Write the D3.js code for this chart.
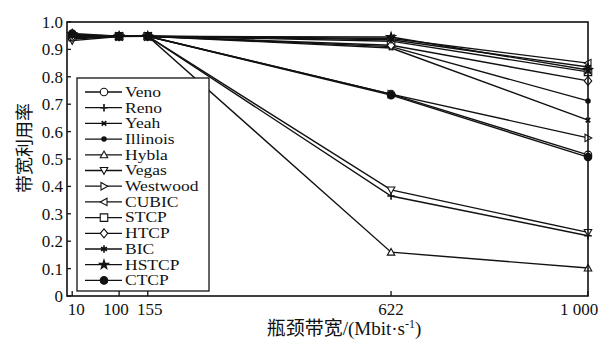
<!DOCTYPE html>
<html>
<head>
<meta charset="utf-8">
<script src="https://cdn.jsdelivr.net/npm/d3@7"></script>
<style>
  html, body { margin: 0; padding: 0; background: #fff; }
  svg { display: block; }
  text { font-family: "Liberation Serif", "Times New Roman", serif; fill: #111; }
  .cjk { font-family: "Noto Sans CJK SC", sans-serif; fill: #111; }
</style>
</head>
<body>
<div id="chart"></div>
<script>
/* Bandwidth utilisation vs bottleneck bandwidth for 13 TCP variants */
var bandwidth = [10, 100, 155, 622, 1000];
var bandwidthLabels = ['10', '100', '155', '622', '1 000'];
var yTicks = [0, 0.1, 0.2, 0.3, 0.4, 0.5, 0.6, 0.7, 0.8, 0.9, 1.0];
var yTickLabels = ['0', '0.1', '0.2', '0.3', '0.4', '0.5', '0.6', '0.7', '0.8', '0.9', '1.0'];

var names = ['Veno', 'Reno', 'Yeah', 'Illinois', 'Hybla', 'Vegas', 'Westwood',
             'CUBIC', 'STCP', 'HTCP', 'BIC', 'HSTCP', 'CTCP'];

var veno     = [0.945, 0.948, 0.948, 0.737, 0.515];
var reno     = [0.938, 0.948, 0.948, 0.365, 0.220];
var yeah     = [0.945, 0.948, 0.948, 0.905, 0.642];
var illinois = [0.943, 0.948, 0.948, 0.910, 0.712];
var hybla    = [0.952, 0.948, 0.948, 0.160, 0.102];
var vegas    = [0.932, 0.947, 0.948, 0.387, 0.232];
var westwood = [0.944, 0.948, 0.948, 0.737, 0.577];
var cubic    = [0.950, 0.948, 0.948, 0.940, 0.850];
var stcp     = [0.948, 0.948, 0.948, 0.930, 0.818];
var htcp     = [0.946, 0.948, 0.948, 0.915, 0.785];
var bic      = [0.950, 0.948, 0.948, 0.935, 0.836];
var hstcp    = [0.955, 0.948, 0.948, 0.945, 0.825];
var ctcp     = [0.958, 0.948, 0.948, 0.733, 0.507];

var markers = ['circle', 'plus', 'x', 'dot', 'triUp', 'triDown', 'triRight',
               'triLeft', 'square', 'diamond', 'asterisk', 'star', 'bigdot'];

(function () {
  'use strict';
  var W = 608, H = 342;
  var left = 67, right = 588, top = 22, bottom = 296;

  var allValues = [veno, reno, yeah, illinois, hybla, vegas, westwood,
                   cubic, stcp, htcp, bic, hstcp, ctcp];
  var series = names.map(function (n, i) {
    return { name: n, marker: markers[i],
      points: bandwidth.map(function (b, j) { return { x: b, y: allValues[i][j] }; }) };
  });

  var svg = d3.select('#chart').append('svg').attr('width', W).attr('height', H);

  var x = d3.scaleLinear().domain([0, 1000]).range([left, right]);
  var y = d3.scaleLinear().domain([0, 1]).range([bottom, top]);

  function markerPath(type, s) {
    var r = s / 2;
    switch (type) {
      case 'circle': return d3.symbol(d3.symbolCircle, Math.PI * r * r)();
      case 'bigdot': return d3.symbol(d3.symbolCircle, Math.PI * r * r)();
      case 'dot': return d3.symbol(d3.symbolCircle, Math.PI * 2.2 * 2.2)();
      case 'square': return 'M' + -r + ',' + -r + 'H' + r + 'V' + r + 'H' + -r + 'Z';
      case 'diamond': return 'M0,' + -r * 1.2 + 'L' + r + ',0L0,' + r * 1.2 + 'L' + -r + ',0Z';
      case 'triUp': return 'M0,' + -r + 'L' + r + ',' + r * 0.8 + 'L' + -r + ',' + r * 0.8 + 'Z';
      case 'triDown': return 'M0,' + r + 'L' + r + ',' + -r * 0.8 + 'L' + -r + ',' + -r * 0.8 + 'Z';
      case 'triRight': return 'M' + r + ',0L' + -r * 0.8 + ',' + -r + 'L' + -r * 0.8 + ',' + r + 'Z';
      case 'triLeft': return 'M' + -r + ',0L' + r * 0.8 + ',' + -r + 'L' + r * 0.8 + ',' + r + 'Z';
      case 'plus': return 'M0,' + -r + 'V' + r + 'M' + -r + ',0H' + r;
      case 'x': var q = r * 0.6; return 'M' + -q + ',' + -q + 'L' + q + ',' + q + 'M' + -q + ',' + q + 'L' + q + ',' + -q;
      case 'asterisk':
        var a = r * 0.8;
        return 'M0,' + -r + 'V' + r + 'M' + -a + ',' + -a * 0.6 + 'L' + a + ',' + a * 0.6 +
               'M' + -a + ',' + a * 0.6 + 'L' + a + ',' + -a * 0.6;
      case 'star': return d3.symbol(d3.symbolStar, 26)();
    }
    return '';
  }
  function markerFill(type) {
    return (type === 'dot' || type === 'bigdot' || type === 'star' || type === 'x') ? '#111' : '#fff';
  }

  function drawMarker(g, type, cx, cy) {
    g.append('path')
      .attr('d', markerPath(type, 7.5))
      .attr('transform', 'translate(' + cx + ',' + cy + ')')
      .attr('fill', markerFill(type))
      .attr('stroke', '#111')
      .attr('stroke-width', type === 'x' || type === 'asterisk' || type === 'plus' ? 1.6 : 1.1);
  }

  /* lines */
  var line = d3.line().x(function (d) { return x(d.x); }).y(function (d) { return y(d.y); });
  var plot = svg.append('g');
  series.forEach(function (s) {
    plot.append('path').attr('d', line(s.points))
      .attr('fill', 'none').attr('stroke', '#111').attr('stroke-width', 1.4);
  });
  series.forEach(function (s) {
    s.points.forEach(function (p) { drawMarker(plot, s.marker, x(p.x), y(p.y)); });
  });

  /* frame */
  svg.append('rect').attr('x', left).attr('y', top)
    .attr('width', right - left).attr('height', bottom - top)
    .attr('fill', 'none').attr('stroke', '#111').attr('stroke-width', 1.6);

  /* y axis */
  var ya = svg.append('g');
  yTicks.forEach(function (t, i) {
    ya.append('line').attr('x1', left).attr('x2', left + 4)
      .attr('y1', y(t)).attr('y2', y(t)).attr('stroke', '#111').attr('stroke-width', 1.3);
    ya.append('text').attr('x', left - 4).attr('y', y(t)).attr('dy', '0.35em')
      .attr('text-anchor', 'end').attr('font-size', 17).attr('fill', '#111').text(yTickLabels[i]);
  });

  /* x axis */
  var xa = svg.append('g');
  var tickShift = [4, -3, 2, 0, -9];
  bandwidth.forEach(function (b, i) {
    xa.append('line').attr('x1', x(b)).attr('x2', x(b))
      .attr('y1', bottom).attr('y2', bottom - 5).attr('stroke', '#111').attr('stroke-width', 1.3);
    xa.append('text').attr('x', x(b) + tickShift[i]).attr('y', bottom + 19)
      .attr('text-anchor', 'middle').attr('font-size', 17).attr('fill', '#111').text(bandwidthLabels[i]);
  });

  /* axis titles */
  svg.append('text').attr('class', 'cjk')
    .attr('transform', 'translate(25,148) rotate(-90)')
    .attr('text-anchor', 'middle').attr('dy', '0.35em').attr('font-size', 18)
    .attr('fill', '#111').text('带宽利用率');

  var xt = svg.append('text').attr('x', 344).attr('y', 335)
    .attr('text-anchor', 'middle').attr('font-size', 19).attr('fill', '#111');
  xt.append('tspan').attr('class', 'cjk').text('瓶颈带宽');
  xt.append('tspan').text('/(Mbit·s');
  xt.append('tspan').attr('dy', -7).attr('font-size', 12).text('-1');
  xt.append('tspan').attr('dy', 7).text(')');

  /* legend */
  var lg = svg.append('g');
  var lx = 77, ly = 78, lw = 132, lh = 213, row = 15.7, first = 92;
  lg.append('rect').attr('x', lx).attr('y', ly).attr('width', lw).attr('height', lh)
    .attr('fill', '#fff').attr('stroke', '#111').attr('stroke-width', 1.3);
  series.forEach(function (s, i) {
    var cy = first + i * row;
    lg.append('line').attr('x1', 85).attr('x2', 122).attr('y1', cy).attr('y2', cy)
      .attr('stroke', '#111').attr('stroke-width', 1.3);
    drawMarker(lg, s.marker, 104, cy);
    lg.append('text').attr('x', 0).attr('y', 0).attr('dy', '0.33em')
      .attr('font-size', 14).attr('fill', '#111')
      .attr('transform', 'translate(125,' + cy + ') scale(1.25,1.05)')
      .text(s.name);
  });
})();
</script>
</body>
</html>
